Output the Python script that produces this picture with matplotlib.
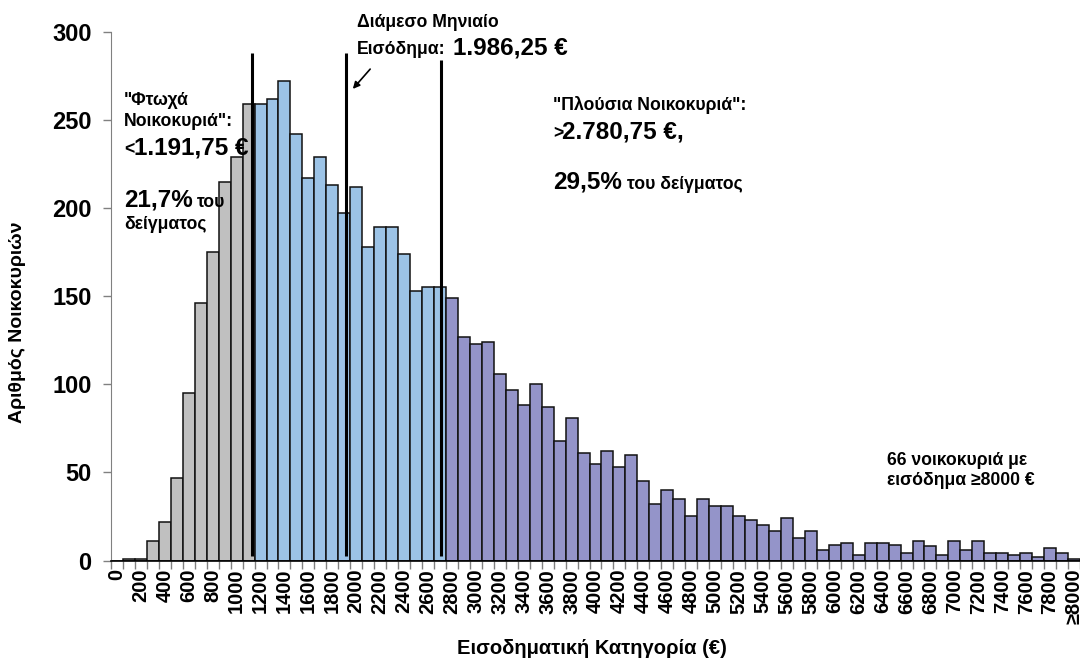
import matplotlib
matplotlib.use("Agg")
import matplotlib.pyplot as plt
import numpy as np

plt.rcParams['font.family'] = ['Liberation Sans', 'DejaVu Sans']
plt.rcParams['font.weight'] = 'bold'

# income categories (step 100 euro) and number of households
categories = [str(v) for v in range(0, 8000, 100)] + ['≥8000']
counts = [0, 1, 1, 11, 22, 47, 95, 146, 175, 215,
          229, 259, 259, 262, 272, 242, 217, 229, 213, 197,
          212, 178, 189, 189, 174, 153, 155, 155, 149, 127,
          123, 124, 106, 97, 88, 100, 87, 68, 81, 61,
          55, 62, 53, 60, 45, 32, 40, 35, 25, 35,
          31, 31, 25, 23, 20, 17, 24, 13, 17, 6,
          9, 10, 3, 10, 10, 9, 4, 11, 8, 3,
          11, 6, 11, 4, 4, 3, 4, 2, 7, 4,
          1]
n_poor = 12      # 0 .. 1100
n_middle = 16    # 1200 .. 2700
# positions of the reference lines (category units)
line_pos = [11.26, 19.12, 27.06]
line_top = [288, 288, 284]

W, H = 1080, 659


def px(x, y):
    return x / W, 1 - y / H


fig = plt.figure(figsize=(10.8, 6.59), dpi=100)
ax = fig.add_axes([111 / W, (H - 560.5) / H, 969 / W, 528.8 / H])

colors = ['#C0C0C0'] * n_poor + ['#9CC3E6'] * n_middle + \
         ['#9494C9'] * (len(counts) - n_poor - n_middle)
x = np.arange(len(counts))
ax.bar(x, counts, width=1.0, color=colors, edgecolor='#111111', linewidth=1.1, zorder=2)

ax.vlines(line_pos, 2.7, line_top, colors='black', linewidth=2.2, zorder=3)

ax.set_xlim(-0.5, len(counts) - 0.5)
ax.set_ylim(0, 300)
ax.set_yticks(range(0, 301, 50))
ax.tick_params(axis='y', labelsize=17, color='#808080', length=6, width=1, pad=8)
ax.set_xticks(x[::2])
ax.set_xticklabels(categories[::2], rotation=90, fontsize=14.5)
ax.set_xticks(np.arange(len(counts) + 1) - 0.5, minor=True)
ax.tick_params(axis='x', which='major', length=0, pad=6)
ax.tick_params(axis='x', which='minor', length=6, color='#808080', width=1)

for s in ['top', 'right']:
    ax.spines[s].set_visible(False)
ax.spines['left'].set_color('#808080')
ax.spines['bottom'].set_color('black')
ax.spines['bottom'].set_linewidth(1.2)
ax.spines['bottom'].set_zorder(4)

fig.text(*px(18, 322), 'Αριθμός Νοικοκυριών', rotation=90, fontsize=14,
         ha='center', va='center')
fig.text(*px(592, 648), 'Εισοδηματική Κατηγορία (€)', fontsize=14.5,
         ha='center', va='center')

small = 12.7
big = 17.5

# median annotation
fig.text(*px(357, 27), 'Διάμεσο Μηνιαίο', fontsize=small, va='baseline')
fig.text(*px(357, 54), 'Εισόδημα:', fontsize=small, va='baseline')
fig.text(*px(453, 54), '1.986,25 €', fontsize=big, va='baseline')
ax.annotate('', xy=px(351, 91), xytext=px(372, 67), xycoords='figure fraction',
            textcoords='figure fraction',
            arrowprops=dict(arrowstyle='-|>', color='black', lw=1.2, mutation_scale=10))

# poor households
fig.text(*px(124, 105), '"Φτωχά', fontsize=small, va='baseline')
fig.text(*px(124, 126), 'Νοικοκυριά":', fontsize=small, va='baseline')
fig.text(*px(124, 154), '<', fontsize=small, va='baseline')
fig.text(*px(134, 154), '1.191,75 €', fontsize=big, va='baseline')
fig.text(*px(124, 207), '21,7%', fontsize=big, va='baseline')
fig.text(*px(197, 207), 'του', fontsize=small, va='baseline')
fig.text(*px(124, 229), 'δείγματος', fontsize=small, va='baseline')

# rich households
fig.text(*px(553, 110), '"Πλούσια Νοικοκυριά":', fontsize=small, va='baseline')
fig.text(*px(553, 138), '>', fontsize=small, va='baseline')
fig.text(*px(562, 138), '2.780,75 €,', fontsize=big, va='baseline')
fig.text(*px(553, 189), '29,5%', fontsize=big, va='baseline')
fig.text(*px(627, 189), 'του δείγματος', fontsize=small, va='baseline')

fig.text(*px(887, 465), '66 νοικοκυριά με', fontsize=small, va='baseline')
fig.text(*px(887, 485), 'εισόδημα ≥8000 €', fontsize=small, va='baseline')

fig.savefig('out.png', dpi=100)
